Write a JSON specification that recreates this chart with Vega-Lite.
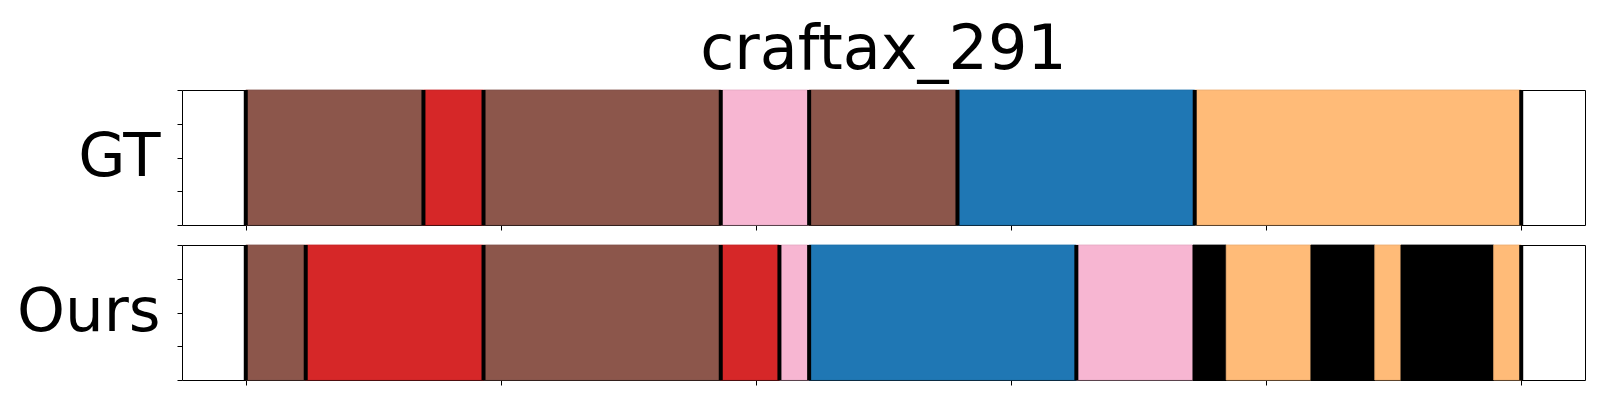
{
  "$schema": "https://vega.github.io/schema/vega-lite/v6.json",
  "background": "white",
  "padding": {"left": 15, "top": 18, "right": 5, "bottom": 5},
  "title": {"text": "craftax_291", "fontSize": 62, "font": "DejaVu Sans", "fontWeight": "normal", "color": "black", "anchor": "middle", "frame": "group", "offset": 6},
  "datasets": {
    "segs": [
      {"row": "GT", "label": "brown", "start": 0.0, "end": 0.1393},
      {"row": "GT", "label": "red", "start": 0.1393, "end": 0.1864},
      {"row": "GT", "label": "brown", "start": 0.1864, "end": 0.3724},
      {"row": "GT", "label": "pink", "start": 0.3724, "end": 0.4417},
      {"row": "GT", "label": "brown", "start": 0.4417, "end": 0.558},
      {"row": "GT", "label": "blue", "start": 0.558, "end": 0.744},
      {"row": "GT", "label": "orange", "start": 0.744, "end": 1.0},
      {"row": "Ours", "label": "brown", "start": 0.0, "end": 0.047},
      {"row": "Ours", "label": "red", "start": 0.047, "end": 0.1864},
      {"row": "Ours", "label": "brown", "start": 0.1864, "end": 0.3724},
      {"row": "Ours", "label": "red", "start": 0.3724, "end": 0.4184},
      {"row": "Ours", "label": "pink", "start": 0.4184, "end": 0.4417},
      {"row": "Ours", "label": "blue", "start": 0.4417, "end": 0.6512},
      {"row": "Ours", "label": "pink", "start": 0.6512, "end": 0.7426},
      {"row": "Ours", "label": "black", "start": 0.7426, "end": 0.7687},
      {"row": "Ours", "label": "orange", "start": 0.7687, "end": 0.8351},
      {"row": "Ours", "label": "black", "start": 0.8351, "end": 0.8852},
      {"row": "Ours", "label": "orange", "start": 0.8852, "end": 0.9057},
      {"row": "Ours", "label": "black", "start": 0.9057, "end": 0.9784},
      {"row": "Ours", "label": "orange", "start": 0.9784, "end": 1.0}
    ],
    "bounds": [
      {"row": "GT", "x": 0.0}, {"row": "GT", "x": 0.1393}, {"row": "GT", "x": 0.1864}, {"row": "GT", "x": 0.3724},
      {"row": "GT", "x": 0.4417}, {"row": "GT", "x": 0.558}, {"row": "GT", "x": 0.744}, {"row": "GT", "x": 1.0},
      {"row": "Ours", "x": 0.0}, {"row": "Ours", "x": 0.047}, {"row": "Ours", "x": 0.1864}, {"row": "Ours", "x": 0.3724},
      {"row": "Ours", "x": 0.4184}, {"row": "Ours", "x": 0.4417}, {"row": "Ours", "x": 0.6512}, {"row": "Ours", "x": 1.0}
    ]
  },
  "config": {
    "view": {"stroke": "black", "strokeWidth": 1},
    "axis": {"grid": false, "labels": false, "domain": false, "tickColor": "black", "tickSize": 5, "tickWidth": 1}
  },
  "spacing": 11,
  "vconcat": [
    {
      "width": 1403, "height": 135,
      "layer": [
        {
          "data": {"name": "segs"},
          "transform": [{"filter": "datum.row === 'GT'"}],
          "mark": {"type": "rect", "strokeWidth": 0.8},
          "encoding": {
            "x": {"field": "start", "type": "quantitative", "scale": {"domain": [-0.05, 1.05], "nice": false, "zero": false}, "axis": {"values": [0, 0.2, 0.4, 0.6, 0.8, 1.0], "title": null}},
            "x2": {"field": "end"},
            "y": {"datum": 0, "type": "quantitative", "scale": {"domain": [0, 1], "nice": false}, "axis": {"values": [0, 0.25, 0.5, 0.75, 1], "title": "GT", "titleAngle": 0, "titleAlign": "right", "titleBaseline": "middle", "titleFontSize": 61, "titleFont": "DejaVu Sans", "titleFontWeight": "normal", "titleColor": "black", "titleX": -22, "titleY": 67}},
            "y2": {"datum": 1},
            "color": {"field": "label", "type": "nominal", "legend": null, "scale": {"domain": ["brown", "red", "pink", "blue", "orange", "black"], "range": ["#8c564b", "#d62728", "#f7b6d2", "#1f77b4", "#ffbb78", "#000000"]}},
            "stroke": {"field": "label", "type": "nominal", "legend": null, "scale": {"domain": ["brown", "red", "pink", "blue", "orange", "black"], "range": ["#80504a", "#c42527", "#e3a8c2", "#1d6ea8", "#eaab6f", "#000000"]}}
          }
        },
        {
          "data": {"name": "bounds"},
          "transform": [{"filter": "datum.row === 'GT'"}],
          "mark": {"type": "rule", "color": "black", "strokeWidth": 4},
          "encoding": {"x": {"field": "x", "type": "quantitative"}}
        }
      ]
    },
    {
      "width": 1403, "height": 135,
      "layer": [
        {
          "data": {"name": "segs"},
          "transform": [{"filter": "datum.row === 'Ours'"}],
          "mark": {"type": "rect", "strokeWidth": 0.8},
          "encoding": {
            "x": {"field": "start", "type": "quantitative", "scale": {"domain": [-0.05, 1.05], "nice": false, "zero": false}, "axis": {"values": [0, 0.2, 0.4, 0.6, 0.8, 1.0], "title": null}},
            "x2": {"field": "end"},
            "y": {"datum": 0, "type": "quantitative", "scale": {"domain": [0, 1], "nice": false}, "axis": {"values": [0, 0.25, 0.5, 0.75, 1], "title": "Ours", "titleAngle": 0, "titleAlign": "right", "titleBaseline": "middle", "titleFontSize": 61, "titleFont": "DejaVu Sans", "titleFontWeight": "normal", "titleColor": "black", "titleX": -22, "titleY": 67}},
            "y2": {"datum": 1},
            "color": {"field": "label", "type": "nominal", "legend": null, "scale": {"domain": ["brown", "red", "pink", "blue", "orange", "black"], "range": ["#8c564b", "#d62728", "#f7b6d2", "#1f77b4", "#ffbb78", "#000000"]}},
            "stroke": {"field": "label", "type": "nominal", "legend": null, "scale": {"domain": ["brown", "red", "pink", "blue", "orange", "black"], "range": ["#80504a", "#c42527", "#e3a8c2", "#1d6ea8", "#eaab6f", "#000000"]}}
          }
        },
        {
          "data": {"name": "bounds"},
          "transform": [{"filter": "datum.row === 'Ours'"}],
          "mark": {"type": "rule", "color": "black", "strokeWidth": 4},
          "encoding": {"x": {"field": "x", "type": "quantitative"}}
        }
      ]
    }
  ]
}
